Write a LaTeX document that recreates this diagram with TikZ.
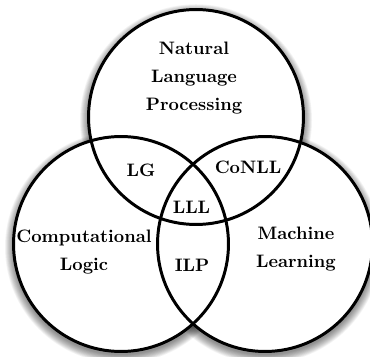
\documentclass[tikz,border=0pt]{standalone}
\begin{document}
\begin{tikzpicture}[x=0.555pt,y=-0.555pt,
  ring/.style={circle, draw=black, line width=1.65pt, minimum size=119.3pt, inner sep=0pt},
  lbl/.style={font=\bfseries\fontsize{10}{15.5}\selectfont, align=center, inner sep=0pt}]
  \clip (0,0) rectangle (370,357);
  \fill[white] (0,0) rectangle (370,357);
  % circle centres
  \coordinate (cN) at (196,117);
  \coordinate (cC) at (121,244);
  \coordinate (cM) at (265,244);
  % soft shadows around the three circles
  \foreach \c in {cN,cC,cM}{
    \foreach \i in {0,...,11}{
      \fill[black, opacity=0.045] ([yshift=-1.8pt]\c) circle[radius={(116-\i*0.75)*0.555pt}];
    }
  }
  % white discs
  \foreach \c in {cN,cC,cM}{
    \fill[white] (\c) circle[radius=59.65pt];
  }
  % outlines
  \node[ring] (nlp) at (cN) {};
  \node[ring] (clg) at (cC) {};
  \node[ring] (mlg) at (cM) {};
  % labels
  \node[lbl] (tNLP) at (194,78) {Natural\\Language\\Processing};
  \node[lbl] (tLG) at (141,170) {LG};
  \node[lbl] (tCoNLL) at (248,167) {CoNLL};
  \node[lbl] (tLLL) at (191.5,207) {LLL};
  \node[lbl] (tCL) at (84,252) {Computational\\Logic};
  \node[lbl] (tILP) at (192,265) {ILP};
  \node[lbl] (tML) at (296,249) {Machine\\Learning};
\end{tikzpicture}
\end{document}
